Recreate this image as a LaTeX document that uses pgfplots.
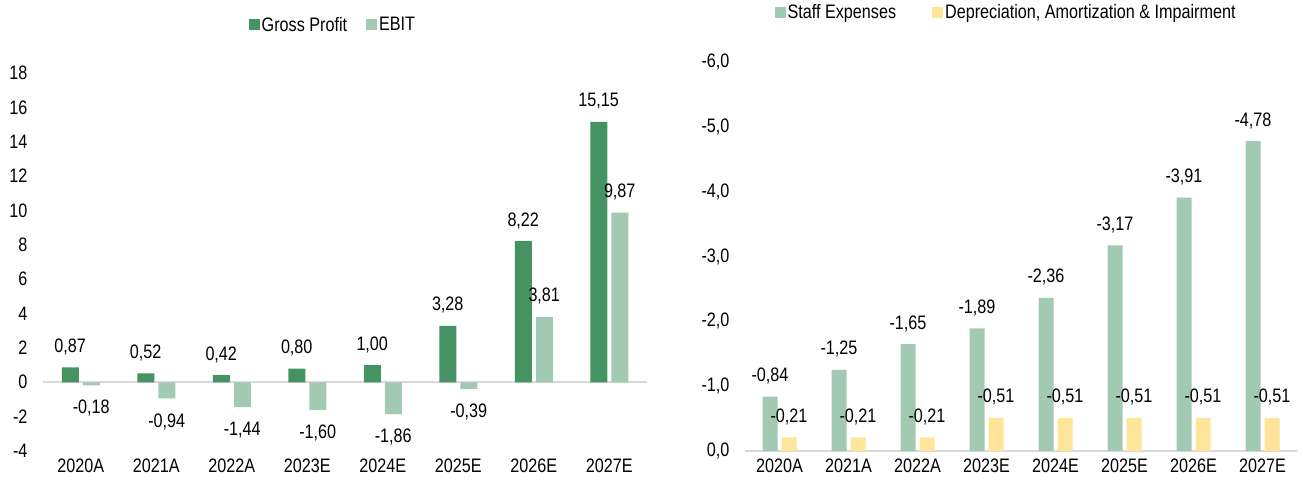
\documentclass[border=0pt]{standalone}
\usepackage{fontspec}
\setmainfont{Liberation Sans}[FakeStretch=0.83]
\usepackage{pgfplots}
\pgfplotsset{compat=1.18}

\definecolor{gp}{RGB}{69,146,98}
\definecolor{ebit}{RGB}{162,201,178}
\definecolor{dep}{RGB}{255,229,153}
\definecolor{zeroline}{RGB}{217,217,217}

\newcommand{\lbl}{\fontsize{19.5}{22}\selectfont}

\pgfplotsset{
  bars/.style={
    scale only axis,
    anchor=south west,
    ybar=4pt,
    xmin=-0.5, xmax=7.5,
    xtick={0,...,7},
    xticklabels={2020A,2021A,2022A,2023E,2024E,2025E,2026E,2027E},
    axis line style={draw=none},
    major tick length=0pt,
    tick label style={font=\lbl},
    /pgf/number format/assume math mode=true,
    /pgf/number format/use comma,
    yticklabel style={xshift=-12pt},
    xticklabel style={yshift=-4pt},
    extra y ticks={0},
    extra y tick labels={},
    extra y tick style={grid=major, major grid style={zeroline, line width=1.6pt}},
    nodes near coords={\pgfmathprintnumber[fixed,fixed zerofill,precision=2,use comma]{\pgfplotspointmeta}},
    every node near coord/.append style={font=\lbl, text depth=0pt, inner sep=0pt, outer ysep=15pt},
    legend style={draw=none, fill=none, font=\lbl, legend columns=2,
      nodes={inner xsep=2pt}},
    legend image code/.code={\fill[##1] (0pt,-5.5pt) rectangle (11pt,5.5pt);},
    clip=false,
  }
}

\begin{document}
\begin{tikzpicture}
\path[use as bounding box] (0pt,0pt) rectangle (1303pt,484pt);

% left: gross profit and EBIT
\begin{axis}[bars,
    at={(43pt,33pt)}, width=604pt, height=378pt,
    bar width=17pt,
    ymin=-4, ymax=18,
    ytick={-4,-2,...,18},
    legend style={at={(0.48,1.127)}, anchor=center,
      /tikz/every even column/.append style={column sep=17pt}},
]
\addplot[fill=gp, draw=none]
  coordinates {(0,0.87)(1,0.52)(2,0.42)(3,0.80)(4,1.00)(5,3.28)(6,8.22)(7,15.15)};
\addplot[fill=ebit, draw=none]
  coordinates {(0,-0.18)(1,-0.94)(2,-1.44)(3,-1.60)(4,-1.86)(5,-0.39)(6,3.81)(7,9.87)};
\legend{Gross Profit, EBIT}
\end{axis}

% right: staff expenses and D&A
\begin{axis}[bars,
    at={(745pt,33pt)}, width=552pt, height=389pt,
    bar width=15pt,
    y dir=reverse,
    ymin=-6, ymax=0,
    ytick={-6,-5,...,0},
    yticklabel style={/pgf/number format/.cd, fixed, fixed zerofill, precision=1},
    every node near coord/.append style={anchor=south},
    legend style={at={(0.473,1.1285)}, anchor=center,
      /tikz/every even column/.append style={column sep=34pt}},
]
\addplot[fill=ebit, draw=none]
  coordinates {(0,-0.84)(1,-1.25)(2,-1.65)(3,-1.89)(4,-2.36)(5,-3.17)(6,-3.91)(7,-4.78)};
\addplot[fill=dep, draw=none]
  coordinates {(0,-0.21)(1,-0.21)(2,-0.21)(3,-0.51)(4,-0.51)(5,-0.51)(6,-0.51)(7,-0.51)};
\legend{Staff Expenses, {Depreciation, Amortization \& Impairment}}
\end{axis}
\end{tikzpicture}
\end{document}
